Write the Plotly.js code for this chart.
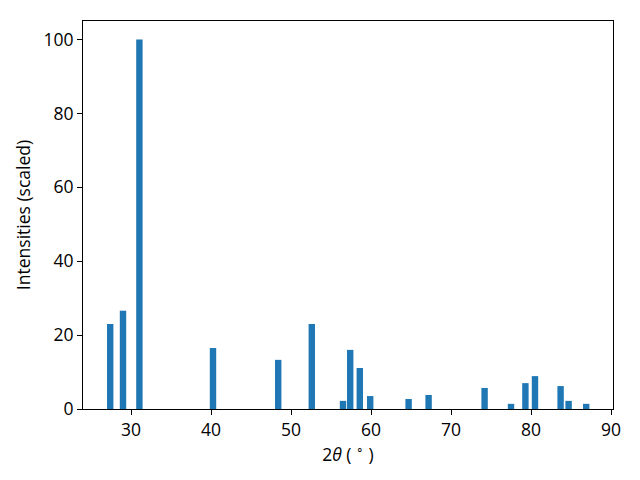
<!DOCTYPE html>
<html>
<head>
<meta charset="utf-8">
<script src="https://cdn.plot.ly/plotly-3.0.1.min.js"></script>
<style>html,body{margin:0;padding:0;background:#fff;}#chart{width:640px;height:480px;}</style>
</head>
<body>
<div id="chart"></div>
<script>
const twoTheta = [27.4, 29.0, 31.05, 40.25, 48.4, 52.6, 56.5, 57.4, 58.6, 59.9, 64.7, 67.2, 74.2, 77.5, 79.3, 80.5, 83.7, 84.7, 86.9];
const intensities = [23.0, 26.6, 100, 16.5, 13.3, 23.0, 2.2, 16.0, 11.1, 3.5, 2.7, 3.8, 5.7, 1.4, 7.0, 8.9, 6.2, 2.2, 1.4];
const xTicks = [30, 40, 50, 60, 70, 80, 90];
const yTicks = [0, 20, 40, 60, 80, 100];

const font = {family: 'Open Sans, Noto Sans, sans-serif', size: 17.5, color: '#000'};
const axisCommon = {
  showline: true, linecolor: '#000', linewidth: 1, mirror: true,
  ticks: 'outside', ticklen: 5, tickwidth: 1, tickcolor: '#000',
  showgrid: false, zeroline: false, tickfont: font
};
Plotly.newPlot('chart', [{
  type: 'bar', x: twoTheta, y: intensities, width: 0.8,
  marker: {color: '#1f77b4', line: {width: 0}}
}], {
  width: 640, height: 480,
  margin: {l: 83, r: 27, t: 21, b: 71},
  paper_bgcolor: '#fff', plot_bgcolor: '#fff',
  font: font, showlegend: false,
  xaxis: Object.assign({}, axisCommon, {
    range: [24.0, 90.25], tickvals: xTicks, ticktext: xTicks.map(String),
    title: {text: '2<i>θ</i> ( <sup>∘</sup> )', font: font, standoff: 4}
  }),
  yaxis: Object.assign({}, axisCommon, {
    range: [0, 105], tickvals: yTicks, ticktext: yTicks.map(String),
    title: {text: 'Intensities (scaled)', font: font, standoff: 8}
  })
}, {staticPlot: true});
</script>
</body>
</html>
